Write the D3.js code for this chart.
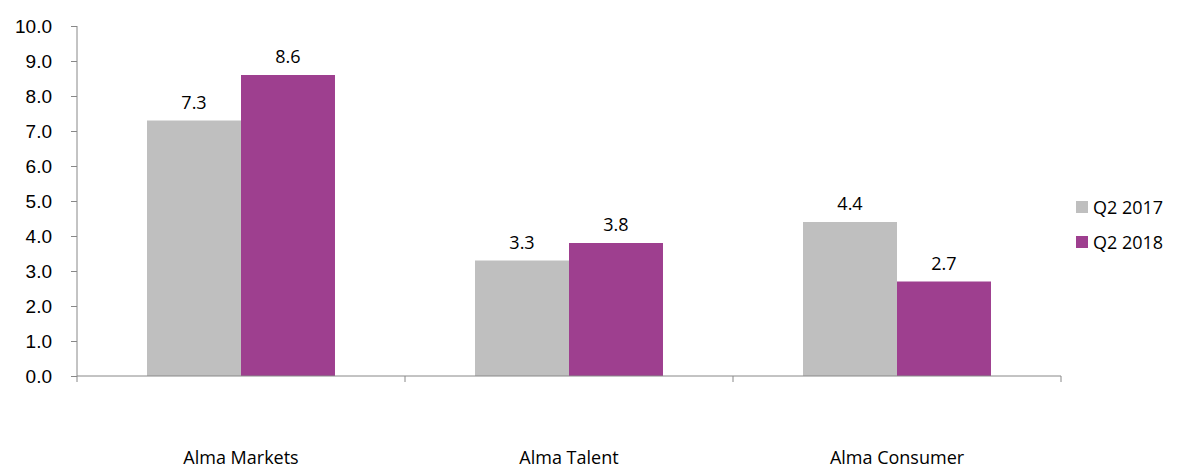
<!DOCTYPE html>
<html>
<head>
<meta charset="utf-8">
<script src="https://cdn.jsdelivr.net/npm/d3@7"></script>
<style>
  body { margin: 0; background: #fff; }
  .tick text { font-family: Arial, "Liberation Sans", sans-serif; }
</style>
</head>
<body>
<div id="chart"></div>
<script>
// data
const categories = ['Alma Markets', 'Alma Talent', 'Alma Consumer'];
const seriesNames = ['Q2 2017', 'Q2 2018'];
const q2_2017 = [7.3, 3.3, 4.4];
const q2_2018 = [8.6, 3.8, 2.7];
const yTicks = [0, 1, 2, 3, 4, 5, 6, 7, 8, 9, 10];

const COLORS = ['#bfbfbf', '#9e3f8f'];
const W = 1178, H = 469;
const LEFT = 77, RIGHT = 1061, TOP = 26, BOTTOM = 376;
const LABEL_FONT = '"Open Sans", Lato, sans-serif';

const svg = d3.select('#chart').append('svg')
  .attr('width', W)
  .attr('height', H);

const x = d3.scaleBand()
  .domain(categories)
  .range([LEFT, RIGHT]);
const x1 = d3.scaleBand()
  .domain(seriesNames)
  .range([0, x.bandwidth()])
  .paddingOuter(0.745);
const y = d3.scaleLinear()
  .domain([0, 10])
  .range([BOTTOM, TOP]);

const rows = categories.map((c, i) => ({
  cat: c,
  vals: [q2_2017[i], q2_2018[i]]
}));

// bars
const groups = svg.append('g').selectAll('g')
  .data(rows)
  .join('g')
    .attr('transform', d => 'translate(' + x(d.cat) + ',0)');

groups.selectAll('rect')
  .data(d => d.vals.map((v, j) => ({ v, s: seriesNames[j], j })))
  .join('rect')
    .attr('x', d => x1(d.s))
    .attr('y', d => y(d.v))
    .attr('width', x1.bandwidth())
    .attr('height', d => y(0) - y(d.v))
    .attr('fill', d => COLORS[d.j]);

groups.selectAll('text')
  .data(d => d.vals.map((v, j) => ({ v, s: seriesNames[j] })))
  .join('text')
    .attr('x', d => x1(d.s) + x1.bandwidth() / 2)
    .attr('y', d => y(d.v) - 12)
    .attr('text-anchor', 'middle')
    .attr('font-family', LABEL_FONT)
    .attr('font-size', 18)
    .attr('fill', '#000')
    .text(d => d.v.toFixed(1));

// y axis
const yAxis = svg.append('g')
  .attr('transform', 'translate(' + LEFT + ',0)')
  .call(d3.axisLeft(y).tickValues(yTicks).tickFormat(d3.format('.1f')).tickSize(6).tickPadding(19));
yAxis.selectAll('.tick text').attr('font-size', 19).attr('fill', '#000');
yAxis.selectAll('line, path').attr('stroke', '#888');
yAxis.select('.domain').attr('d', 'M0,' + TOP + 'V' + BOTTOM);

// x axis
const xAxis = svg.append('g')
  .attr('transform', 'translate(0,' + BOTTOM + ')');
xAxis.append('line')
  .attr('x1', LEFT).attr('x2', RIGHT)
  .attr('stroke', '#888');
const bounds = categories.map(c => x(c)).concat([RIGHT]);
xAxis.selectAll('.sep')
  .data(bounds)
  .join('line')
    .attr('class', 'sep')
    .attr('x1', d => d).attr('x2', d => d)
    .attr('y1', 0).attr('y2', 6)
    .attr('stroke', '#888');
xAxis.selectAll('.cat')
  .data(categories)
  .join('text')
    .attr('class', 'cat')
    .attr('x', d => x(d) + x.bandwidth() / 2)
    .attr('y', 88)
    .attr('text-anchor', 'middle')
    .attr('font-family', LABEL_FONT)
    .attr('font-size', 18)
    .attr('fill', '#000')
    .text(d => d);

// legend
const legend = svg.append('g')
  .attr('transform', 'translate(1076,200)');
const li = legend.selectAll('g')
  .data(seriesNames)
  .join('g')
    .attr('transform', (d, i) => 'translate(0,' + i * 35 + ')');
li.append('rect')
  .attr('width', 12).attr('height', 12)
  .attr('y', 1)
  .attr('fill', (d, i) => COLORS[i]);
li.append('text')
  .attr('x', 17)
  .attr('y', 14)
  .attr('font-family', LABEL_FONT)
  .attr('font-size', 18)
  .attr('fill', '#000')
  .text(d => d);
</script>
</body>
</html>
